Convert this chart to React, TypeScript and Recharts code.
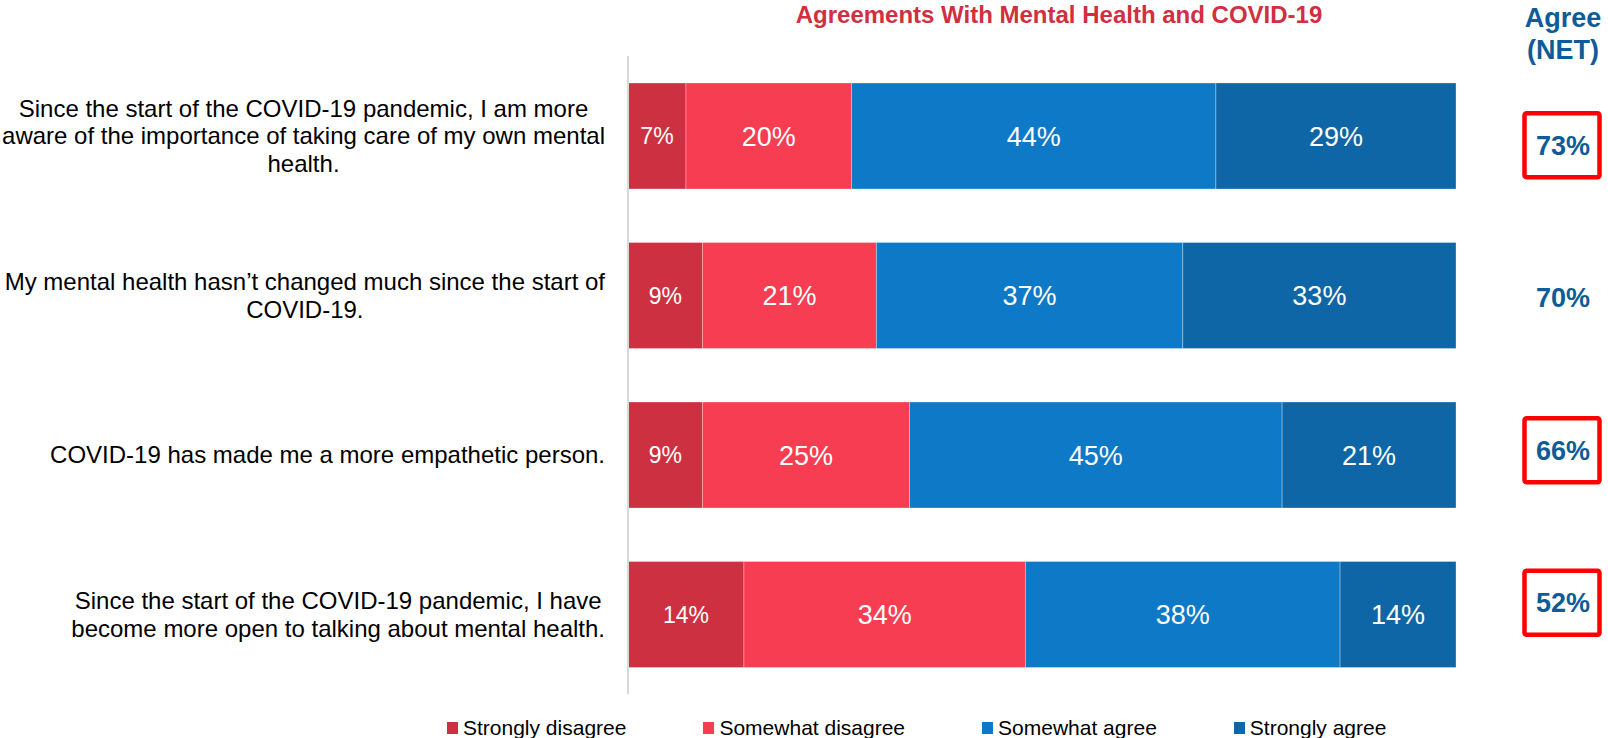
import React from "react";
import { BarChart, Bar, XAxis, YAxis, Legend, LabelList } from "recharts";

const categoryLines: string[][] = [
  [
    "Since the start of the COVID-19 pandemic, I am more",
    "aware of the importance of taking care of my own mental",
    "health.",
  ],
  ["My mental health hasn\u2019t changed much since the start of", "COVID-19."],
  ["COVID-19 has made me a more empathetic person."],
  [
    "Since the start of the COVID-19 pandemic, I have",
    "become more open to talking about mental health.",
  ],
];
const categories = categoryLines.map((l) => l.join(" "));
const stronglyDisagree = [7, 9, 9, 14];
const somewhatDisagree = [20, 21, 25, 34];
const somewhatAgree = [44, 37, 45, 38];
const stronglyAgree = [29, 33, 21, 14];
const agreeNet = [73, 70, 66, 52];
const highlighted = [true, false, true, true];

const seriesNames = ["Strongly disagree", "Somewhat disagree", "Somewhat agree", "Strongly agree"];
const seriesKeys = ["sd", "swd", "swa", "sa"];
const seriesColors = ["#CD3141", "#F63D52", "#0E79C6", "#0F66A6"];
const seriesValues = [stronglyDisagree, somewhatDisagree, somewhatAgree, stronglyAgree];

const data = categories.map((label, i) => {
  const row: any = { label, net: agreeNet[i] };
  seriesKeys.forEach((k, s) => (row[k] = seriesValues[s][i]));
  return row;
});

const FONT = "'Liberation Sans', Arial, Helvetica, sans-serif";
const NET_BLUE = "#0E5C97";

let ctx: CanvasRenderingContext2D | null = null;
function measure(text: string, font: string) {
  if (!ctx && typeof document !== "undefined") {
    ctx = document.createElement("canvas").getContext("2d");
  }
  if (!ctx) return text.length * 11;
  ctx.font = font;
  return ctx.measureText(text).width;
}

const CategoryTick = (props: any) => {
  const { x, y, index } = props;
  const lines = categoryLines[index] || [];
  const fs = 24;
  const lh = 27.6;
  const maxW = Math.max(...lines.map((l) => measure(l, `${fs}px 'Liberation Sans'`)));
  const cx = x - maxW / 2;
  const n = lines.length;
  return (
    <g>
      {lines.map((l, i) => (
        <text
          key={i}
          x={cx}
          y={y + (i - (n - 1) / 2) * lh + 8.6}
          textAnchor="middle"
          fontSize={fs}
          fontFamily={FONT}
          fill="#000"
        >
          {l}
        </text>
      ))}
    </g>
  );
};

const NetTick = (props: any) => {
  const { x, y, index } = props;
  const cx = x + 107;
  const boxW = 75;
  const boxH = 64;
  return (
    <g>
      {highlighted[index] && (
        <rect
          x={cx - boxW / 2 - 1}
          y={y - boxH / 2}
          width={boxW}
          height={boxH}
          rx={2}
          fill="none"
          stroke="#FF0000"
          strokeWidth={4.5}
        />
      )}
      <text
        x={cx}
        y={y + 9.7}
        textAnchor="middle"
        fontSize={27}
        fontWeight="bold"
        fontFamily={FONT}
        fill={NET_BLUE}
      >
        {agreeNet[index]}%
      </text>
    </g>
  );
};

const makeValueLabel = (fs: number) => (props: any) => {
  const { x, y, width, height, value } = props;
  return (
    <text
      x={x + width / 2}
      y={y + height / 2 + fs * 0.36}
      textAnchor="middle"
      fontSize={fs}
      fontFamily={FONT}
      fill="#FFFFFF"
    >
      {value}%
    </text>
  );
};

const LegendContent = () => {
  return (
    <div style={{ display: "flex", gap: 77, fontFamily: FONT, fontSize: 21, lineHeight: "24px", color: "#000", whiteSpace: "nowrap" }}>
      {seriesNames.map((name, i) => (
        <div key={name} style={{ display: "flex", alignItems: "center" }}>
          <span style={{ display: "inline-block", width: 11, height: 12, background: seriesColors[i], marginRight: 5 }} />
          <span>{name}</span>
        </div>
      ))}
    </div>
  );
};

export default function App() {
  return (
    <div style={{ position: "absolute", left: 0, top: 0, width: 1608, height: 738, background: "#fff" }}>
      <div
        style={{
          position: "absolute",
          left: 0,
          top: 0,
          width: 2118,
          textAlign: "center",
          fontFamily: FONT,
          fontWeight: "bold",
          fontSize: 24,
          lineHeight: "30px",
          color: "#D12F3F",
          whiteSpace: "nowrap",
        }}
      >
        Agreements With Mental Health and COVID-19
      </div>
      <div
        style={{
          position: "absolute",
          left: 1503,
          top: 2,
          width: 120,
          textAlign: "center",
          fontFamily: FONT,
          fontWeight: "bold",
          fontSize: 27,
          lineHeight: "32px",
          color: NET_BLUE,
        }}
      >
        Agree
        <br />
        (NET)
      </div>
      <div style={{ position: "absolute", left: 0, top: 0 }}>
        <BarChart
          width={1608}
          height={738}
          data={data}
          layout="vertical"
          margin={{ top: 56, right: 0, bottom: 44, left: 0 }}
          barCategoryGap={0}
        >
          <XAxis type="number" domain={[0, 100]} hide />
          <YAxis
            yAxisId="cat"
            type="category"
            dataKey="label"
            width={628}
            tick={<CategoryTick />}
            tickLine={false}
            tickSize={0}
            tickMargin={23}
            axisLine={{ stroke: "#D9D9D9", strokeWidth: 2 }}
            interval={0}
          />
          <YAxis
            yAxisId="net"
            type="category"
            dataKey="label"
            orientation="right"
            width={152}
            tick={<NetTick />}
            tickLine={false}
            tickSize={0}
            tickMargin={0}
            axisLine={false}
            interval={0}
            padding={{ top: 13, bottom: 15 }}
          />
          {seriesKeys.map((k, s) => (
            <Bar
              key={k}
              yAxisId="cat"
              dataKey={k}
              name={seriesNames[s]}
              stackId="a"
              fill={seriesColors[s]}
              stroke="rgba(255,255,255,0.3)"
              strokeWidth={1}
              barSize={106}
              isAnimationActive={false}
            >
              <LabelList dataKey={k} content={makeValueLabel(s === 0 ? 23 : 27)} />
            </Bar>
          ))}
          <Bar
            yAxisId="net"
            dataKey="net"
            fill="transparent"
            legendType="none"
            isAnimationActive={false}
            barSize={1}
          />
          <Legend
            content={<LegendContent />}
            wrapperStyle={{ position: "absolute", left: 447, top: 716, width: "auto", height: 0, overflow: "visible" }}
          />
        </BarChart>
      </div>
    </div>
  );
}
